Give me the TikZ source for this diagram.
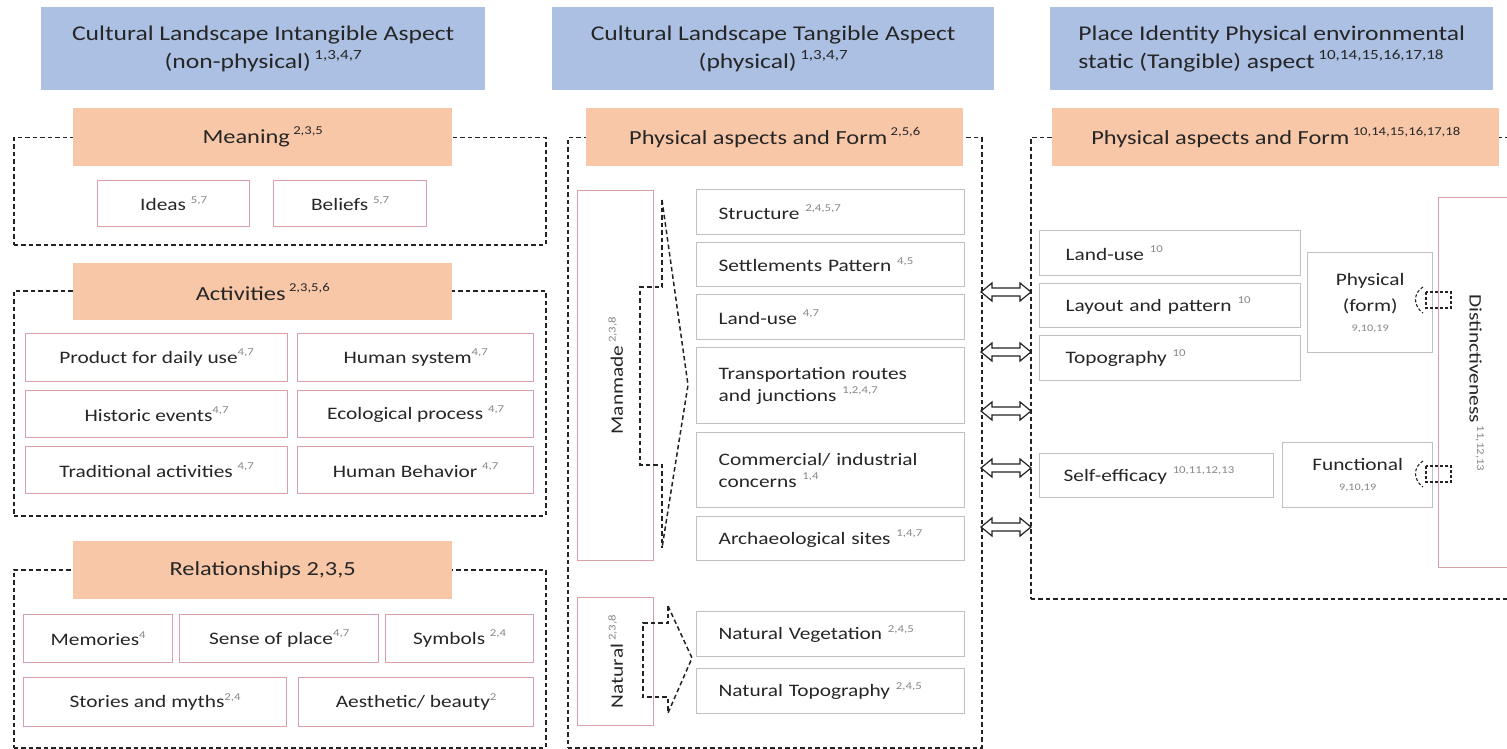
\documentclass[tikz,border=0pt]{standalone}
\usepackage{fontspec}
\setmainfont{Carlito}[FakeStretch=1.22]

\definecolor{hdrblue}{RGB}{172,192,227}
\definecolor{catorange}{RGB}{247,199,168}
\definecolor{pinkline}{RGB}{218,160,170}
\definecolor{grayline}{RGB}{192,192,192}
\definecolor{txt}{RGB}{38,38,38}
\definecolor{supgray}{RGB}{135,135,135}
\definecolor{dashgray}{RGB}{35,35,35}

% reference numbers: small grey (boxes), header size, category size
\newcommand\refg[1]{\raisebox{0.42em}{\fontsize{10.5}{10}\selectfont\color{supgray}#1}}
\newcommand\refh[1]{\raisebox{0.42em}{\fontsize{14}{14}\selectfont #1}}
\newcommand\refo[1]{\raisebox{0.45em}{\fontsize{12}{12}\selectfont #1}}

\begin{document}
\begin{tikzpicture}[x=1pt,y=-1pt,
  every node/.style={inner sep=0pt, text=txt, font=\fontsize{17.5}{22}\selectfont},
  span/.style n args={4}{anchor=north west, at={(#1,#2)},
    minimum width={#3pt-#1pt}, minimum height={#4pt-#2pt}},
  hdr/.style={fill=hdrblue, font=\fontsize{21}{28}\selectfont},
  cat/.style={fill=catorange, font=\fontsize{20}{24}\selectfont},
  frame/.style={draw=dashgray, line width=1.5pt, dash pattern=on 4.5pt off 3pt},
  pbox/.style={draw=pinkline, line width=1.3pt, fill=white, align=center},
  gbox/.style={draw=grayline, line width=1.3pt, fill=white},
  lefttext/.style={align=left, inner xsep=#1},
  dsh/.style={draw=dashgray, line width=1.5pt, dash pattern=on 4.5pt off 3pt},
  dshs/.style={draw=dashgray, line width=1.1pt, dash pattern=on 3pt off 2pt},
  hollow dbl/.pic={
    \draw[draw=dashgray, line width=1.2pt, fill=white, line join=miter]
      (-25,0) -- (-14,-9) -- (-14,-4) -- (14,-4) -- (14,-9) -- (25,0)
      -- (14,9) -- (14,4) -- (-14,4) -- (-14,9) -- cycle;
  }
]
\clip (0,0) rectangle (1507,749);
\fill[white] (0,0) rectangle (1507,749);

% ---------- dashed group frames ----------
\node[frame, span={13}{137}{545}{244}] (frMeaning) {};
\node[frame, span={13}{290}{545}{515}] (frActivities) {};
\node[frame, span={13}{569}{545}{747}] (frRelations) {};
\node[frame, span={567}{137}{981}{747}] (frTangible) {};
\node[frame, span={1030}{137}{1530}{598}] (frIdentity) {};

% ---------- column headers ----------
\node[hdr, span={41}{7}{485}{90}, align=center] (hIntangible)
  {Cultural Landscape Intangible Aspect\\(non-physical)\,\refh{1,3,4,7}};
\node[hdr, span={552}{7}{994}{90}, align=center] (hTangible)
  {Cultural Landscape Tangible Aspect\\(physical)\,\refh{1,3,4,7}};
\node[hdr, span={1050}{7}{1493}{90}, align=left] (hIdentity)
  {Place Identity Physical environmental\\static (Tangible) aspect\,\refh{10,14,15,16,17,18}};

% ---------- category bars ----------
\node[cat, span={73}{108}{452}{166}] (cMeaning) {Meaning\,\refo{2,3,5}};
\node[cat, span={73}{263}{452}{320}] (cActivities) {Activities\,\refo{2,3,5,6}};
\node[cat, span={73}{541}{452}{599}] (cRelations) {Relationships 2,3,5};
\node[cat, span={586}{108}{963}{166}] (cForm) {Physical aspects and Form\,\refo{2,5,6}};
\node[cat, span={1052}{108}{1499}{166}, align=left] (cFormId)
  {Physical aspects and Form\,\refo{10,14,15,16,17,18}};

% ---------- meaning ----------
\node[pbox, span={97}{180}{249}{226}] (ideas) {Ideas \refg{5,7}};
\node[pbox, span={273}{180}{426}{226}] (beliefs) {Beliefs \refg{5,7}};

% ---------- activities ----------
\node[pbox, span={25}{333}{287}{381}] (product) {Product for daily use\refg{4,7}};
\node[pbox, span={297}{333}{533}{381}] (humansys) {Human system\refg{4,7}};
\node[pbox, span={25}{390}{287}{437}] (historic) {Historic events\refg{4,7}};
\node[pbox, span={297}{390}{533}{437}] (ecological) {Ecological process \refg{4,7}};
\node[pbox, span={25}{446}{287}{493}] (traditional) {Traditional activities \refg{4,7}};
\node[pbox, span={297}{446}{533}{493}] (behavior) {Human Behavior \refg{4,7}};

% ---------- relationships ----------
\node[pbox, span={23}{614}{172}{662}] (memories) {Memories\refg{4}};
\node[pbox, span={179}{614}{378}{662}] (sense) {Sense of place\refg{4,7}};
\node[pbox, span={385}{614}{533}{662}] (symbols) {Symbols \refg{2,4}};
\node[pbox, span={23}{677}{286}{726}] (stories) {Stories and myths\refg{2,4}};
\node[pbox, span={298}{677}{533}{726}] (aesthetic) {Aesthetic/ beauty\refg{2}};

% ---------- tangible: manmade / natural ----------
\node[pbox, span={577}{190}{653}{560}] (manmade)
  {\rotatebox{90}{Manmade\,\refg{2,3,8}}};
\node[pbox, span={577}{597}{653}{725}] (natural)
  {\rotatebox{90}{Natural\,\refg{2,3,8}}};

\node[gbox, span={696}{189}{964}{234}, lefttext=22pt, text width=224pt] (structure)
  {\mbox{Structure \refg{2,4,5,7}}};
\node[gbox, span={696}{242}{964}{286}, lefttext=22pt, text width=224pt] (settlements)
  {\mbox{Settlements Pattern \refg{4,5}}};
\node[gbox, span={696}{294}{964}{339}, lefttext=22pt, text width=224pt] (landuseA)
  {\mbox{Land-use \refg{4,7}}};
\node[gbox, span={696}{347}{964}{423}, lefttext=22pt, text width=224pt] (transport)
  {\mbox{Transportation routes}\\\mbox{and junctions \refg{1,2,4,7}}};
\node[gbox, span={696}{432}{964}{507}, lefttext=22pt, text width=224pt] (commercial)
  {\mbox{Commercial/ industrial}\\\mbox{concerns \refg{1,4}}};
\node[gbox, span={696}{516}{964}{560}, lefttext=22pt, text width=224pt] (archaeo)
  {\mbox{Archaeological sites \refg{1,4,7}}};
\node[gbox, span={696}{611}{964}{656}, lefttext=22pt, text width=224pt] (vegetation)
  {\mbox{Natural Vegetation \refg{2,4,5}}};
\node[gbox, span={696}{668}{964}{713}, lefttext=22pt, text width=224pt] (naturaltopo)
  {\mbox{Natural Topography \refg{2,4,5}}};

% brace-arrow outlines from the groups to their items
\draw[dsh] (662,200) -- (662,287) -- (640,287) -- (640,465) -- (662,465) -- (662,548);
\draw[dsh] (662,200) -- (688,385) -- (662,548);
\draw[dsh] (668,606) -- (668,623) -- (643,623) -- (643,697) -- (668,697) -- (668,713);
\draw[dsh] (668,606) -- (692,658) -- (668,713);

% ---------- links between the tangible and identity columns ----------
\pic at (1006,292) {hollow dbl};
\pic at (1006,352) {hollow dbl};
\pic at (1006,411) {hollow dbl};
\pic at (1006,468) {hollow dbl};
\pic at (1006,527) {hollow dbl};

% ---------- place identity ----------
\node[gbox, span={1039}{230}{1300}{275}, lefttext=26pt, text width=209pt] (landuseB)
  {\mbox{Land-use \refg{10}}};
\node[gbox, span={1039}{283}{1300}{327}, lefttext=26pt, text width=209pt] (layout)
  {\mbox{Layout and pattern \refg{10}}};
\node[gbox, span={1039}{335}{1300}{380}, lefttext=26pt, text width=209pt] (topo)
  {\mbox{Topography \refg{10}}};
\node[gbox, span={1039}{453}{1273}{497}, lefttext=24pt, text width=186pt] (selfeff)
  {\mbox{Self-efficacy \refg{10,11,12,13}}};

\node[gbox, span={1307}{252}{1432}{352}, align=center, font=\fontsize{17.5}{26}\selectfont] (physical)
  {Physical\\(form)\\[-6pt]{\fontsize{10}{12}\selectfont\color{supgray}9,10,19}};
\node[gbox, span={1282}{442}{1432}{507}, align=center, font=\fontsize{17.5}{20}\selectfont] (functional)
  {Functional\\{\fontsize{10}{12}\selectfont\color{supgray}9,10,19}};

\node[pbox, span={1438}{197}{1530}{567}] (distinct)
  {\kern-16pt\rotatebox{-90}{Distinctiveness\,\refg{11,12,13}}};

% small turn-around marks between form/function and distinctiveness
\draw[dshs] (1423,287) .. controls (1413,293) and (1413,306) .. (1423,313);
\draw[dshs] (1426,292) rectangle (1451,308);
\draw[dshs] (1423,461) .. controls (1413,467) and (1413,480) .. (1423,487);
\draw[dshs] (1426,466) rectangle (1451,482);
\end{tikzpicture}
\end{document}
